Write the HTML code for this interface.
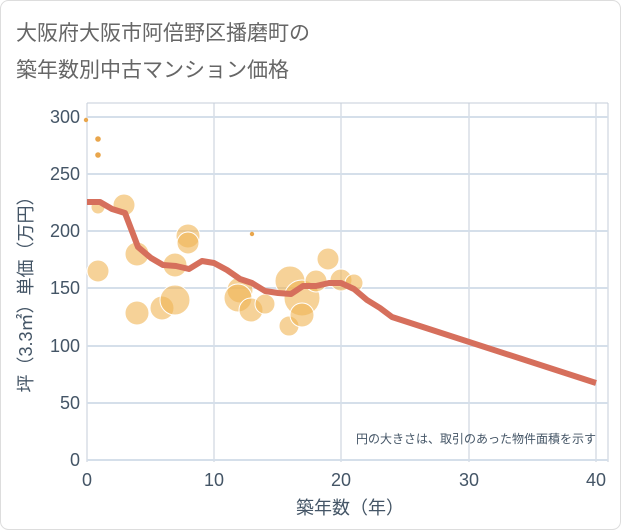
<!DOCTYPE html>
<html><head><meta charset="utf-8"><style>
body{margin:0;background:#fff;}
svg{display:block;font-family:"Liberation Sans","Noto Sans CJK JP",sans-serif;}
</style></head><body>
<svg width="621" height="530" viewBox="0 0 621 530">
<rect x="0.5" y="0.5" width="620" height="529" rx="8" fill="#fff" stroke="#ddd"/>
<text x="16" y="40" font-size="21" fill="#666">大阪府大阪市阿倍野区播磨町の</text>
<text x="16" y="77" font-size="21" fill="#666">築年数別中古マンション価格</text>
<g stroke="#c5ced8" stroke-width="1">
<line x1="87" y1="103" x2="87" y2="462"/><line x1="214" y1="103" x2="214" y2="462"/><line x1="341" y1="103" x2="341" y2="462"/><line x1="469" y1="103" x2="469" y2="462"/><line x1="596" y1="103" x2="596" y2="462"/>
<line x1="87" y1="103" x2="608" y2="103"/><line x1="608" y1="103" x2="608" y2="462"/>
</g>
<g stroke="#d5dfea" stroke-width="2">
<line x1="87" y1="117" x2="608" y2="117"/><line x1="87" y1="174" x2="608" y2="174"/><line x1="87" y1="231" x2="608" y2="231"/><line x1="87" y1="288" x2="608" y2="288"/><line x1="87" y1="346" x2="608" y2="346"/><line x1="87" y1="403" x2="608" y2="403"/><line x1="87" y1="460" x2="608" y2="460"/>
</g>
<g fill="#e9a64c">
<circle cx="86" cy="120" r="2.2"/><circle cx="98" cy="139" r="2.8"/><circle cx="98" cy="155" r="2.8"/><circle cx="252" cy="234" r="2.2"/>
</g>
<g fill="#f0b454" fill-opacity="0.6" stroke="#fff" stroke-width="1">
<circle cx="98" cy="207" r="7"/><circle cx="124" cy="205" r="11"/><circle cx="98" cy="271" r="11"/><circle cx="137" cy="254" r="12"/>
<circle cx="188" cy="236" r="12"/><circle cx="188" cy="243" r="11"/><circle cx="175" cy="265" r="12"/>
<circle cx="137" cy="313" r="12"/><circle cx="162" cy="308" r="12"/><circle cx="175" cy="300" r="15"/>
<circle cx="240" cy="290" r="13"/><circle cx="238" cy="298" r="14"/><circle cx="251" cy="310" r="12"/><circle cx="265" cy="304" r="10"/>
<circle cx="289" cy="326" r="10"/><circle cx="290" cy="281" r="15"/><circle cx="302" cy="298" r="18"/><circle cx="302" cy="315" r="12"/>
<circle cx="328" cy="259" r="11"/><circle cx="316" cy="281" r="11"/><circle cx="341" cy="280" r="11"/><circle cx="354" cy="283" r="9"/>
</g>
<polyline fill="none" stroke="#d66f5c" stroke-width="6" stroke-linejoin="round" points="87,202 100,202 112,209 125,213 138,247 151,258 163,265 176,266 189,269 202,261 214,263 227,270 240,279 252,283 265,291 278,293 291,294 303,286 316,286 329,283 341,283 354,289 367,300 380,308 392,317 596,383"/>
<g font-size="18" fill="#445566" text-anchor="end">
<text x="80" y="123">300</text><text x="80" y="180">250</text><text x="80" y="237">200</text><text x="80" y="294">150</text><text x="80" y="352">100</text><text x="80" y="409">50</text><text x="80" y="466">0</text>
</g>
<g font-size="18" fill="#445566" text-anchor="middle">
<text x="87" y="486">0</text><text x="214" y="486">10</text><text x="341" y="486">20</text><text x="469" y="486">30</text><text x="596" y="486">40</text>
<text x="350" y="514">築年数（年）</text>
</g>
<text transform="translate(32,290) rotate(-90)" font-size="18" fill="#445566" text-anchor="middle">坪（3.3㎡）単価（万円）</text>
<text x="596" y="443" font-size="12" fill="#445566" text-anchor="end">円の大きさは、取引のあった物件面積を示す</text>
</svg>
</body></html>
